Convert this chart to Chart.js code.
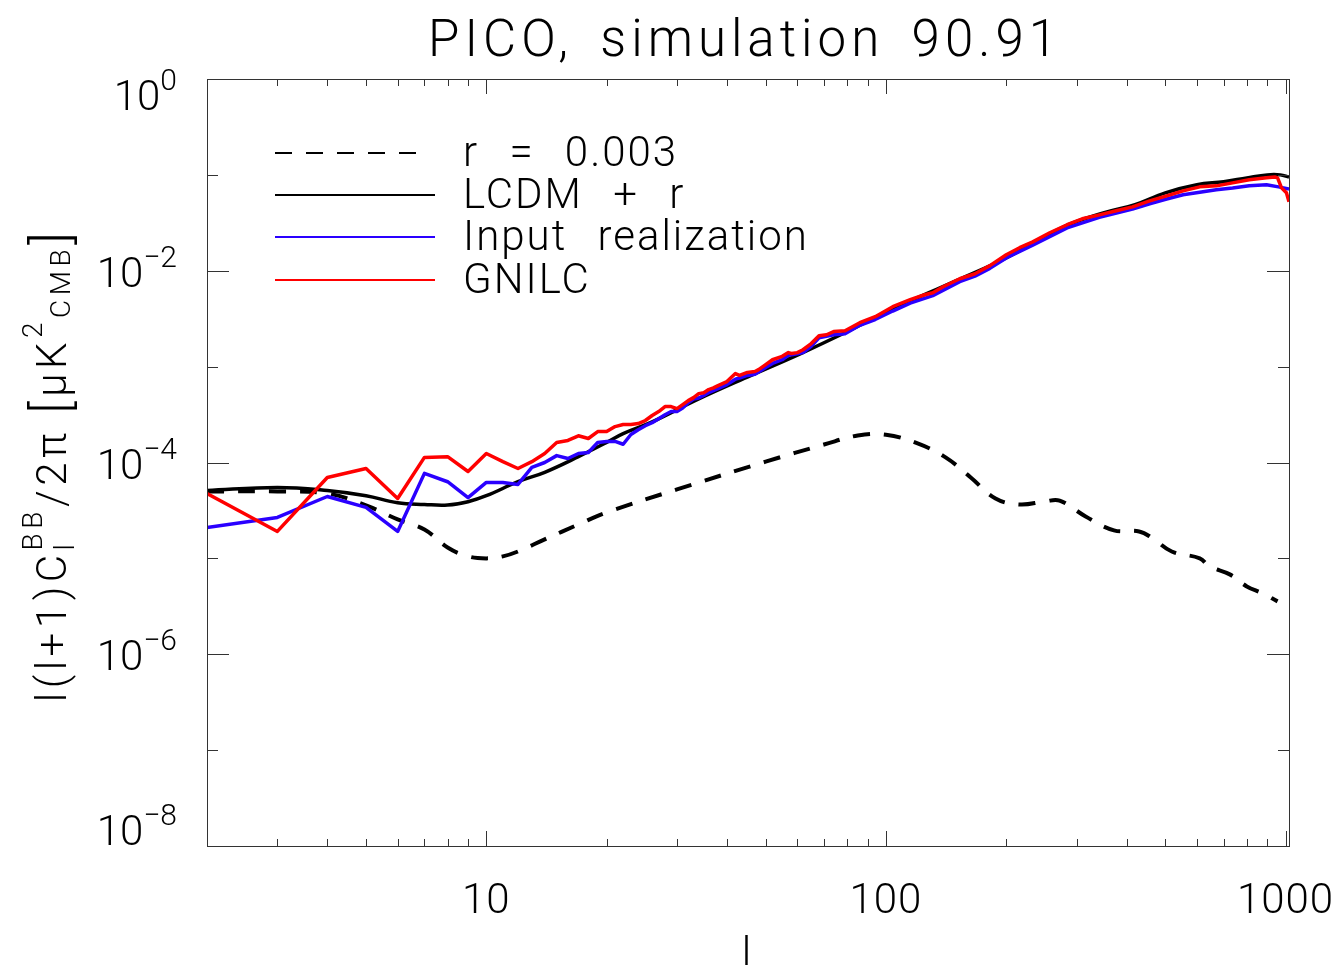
<!DOCTYPE html>
<html>
<head>
<meta charset="utf-8">
<title>PICO, simulation 90.91</title>
<script src="https://cdn.jsdelivr.net/npm/chart.js@4.4.1/dist/chart.umd.min.js"></script>
<style>
  html, body { margin: 0; padding: 0; background: #fff; }
  canvas { display: block; }
</style>
</head>
<body>
<canvas id="bbSpectrum" width="1343" height="965"></canvas>
<script>
// tensor-only spectrum, r = 0.003
const ellTensor = [2, 3, 4, 5, 6, 7, 8, 9, 10, 11, 12, 14, 17, 20, 30, 50, 70, 85, 100, 120, 141, 163, 188, 216, 250, 272, 316, 372, 430, 465, 519, 610, 645, 725, 800, 875, 955];
const tensorR = [4.99e-5, 4.99e-5, 4.75e-5, 3.57e-5, 2.55e-5, 2.0e-5, 1.30e-5, 1.05e-5, 1.0e-5, 1.05e-5, 1.18e-5, 1.58e-5, 2.26e-5, 3.01e-5, 5.24e-5, 1.02e-4, 1.54e-4, 1.91e-4, 1.95e-4, 1.58e-4, 1.13e-4, 6.98e-5, 4.22e-5, 3.65e-5, 3.92e-5, 4.0e-5, 2.74e-5, 1.96e-5, 1.91e-5, 1.62e-5, 1.18e-5, 1.0e-5, 8.25e-6, 6.81e-6, 5.1e-6, 4.32e-6, 3.56e-6];

// lensing + tensors model
const ellModel = [2, 3, 4, 5, 6, 7, 8, 9, 10, 12, 14, 17, 20, 22, 26, 34, 46, 61, 78, 100, 150, 200, 280, 350, 420, 500, 600, 700, 800, 900, 970, 1020];
const lcdmR = [5.1e-5, 5.5e-5, 5.1e-5, 4.5e-5, 3.8e-5, 3.65e-5, 3.6e-5, 3.9e-5, 4.5e-5, 6.3e-5, 7.9e-5, 1.15e-4, 1.62e-4, 2.0e-4, 2.65e-4, 4.6e-4, 8.1e-4, 1.36e-3, 2.2e-3, 3.7e-3, 7.9e-3, 1.36e-2, 2.9e-2, 4.0e-2, 4.9e-2, 6.5e-2, 7.9e-2, 8.5e-2, 9.3e-2, 1.0e-1, 1.0e-1, 9.5e-2];

// input CMB realization
const ellInput = [2, 3, 4, 5, 6, 7, 8, 9, 10, 11, 12, 13, 14, 15, 16, 17, 18, 19, 20, 21, 22, 23, 24, 25, 26, 27, 28, 29, 30, 31, 32, 33, 34, 35, 36, 38, 40, 42, 43, 45, 47, 50, 52, 55, 57, 60, 62, 65, 68, 74, 79, 86, 94, 104, 115, 131, 153, 167, 182, 200, 233, 284, 342, 414, 457, 504, 554, 610, 671, 737, 811, 896, 960, 1020];
const inputReal = [2.1e-5, 2.67e-5, 4.42e-5, 3.4e-5, 1.91e-5, 7.7e-5, 6.3e-5, 4.3e-5, 6.2e-5, 6.2e-5, 5.9e-5, 8.9e-5, 1.0e-4, 1.18e-4, 1.1e-4, 1.24e-4, 1.27e-4, 1.62e-4, 1.66e-4, 1.66e-4, 1.55e-4, 1.96e-4, 2.2e-4, 2.42e-4, 2.6e-4, 2.86e-4, 3.15e-4, 3.4e-4, 3.4e-4, 3.7e-4, 4.2e-4, 4.6e-4, 4.7e-4, 5.0e-4, 5.35e-4, 5.9e-4, 6.5e-4, 7.4e-4, 7.6e-4, 8.1e-4, 8.3e-4, 9.8e-4, 1.08e-3, 1.18e-3, 1.31e-3, 1.36e-3, 1.40e-3, 1.63e-3, 2.0e-3, 2.15e-3, 2.2e-3, 2.7e-3, 3.1e-3, 3.8e-3, 4.6e-3, 5.5e-3, 7.7e-3, 8.8e-3, 1.06e-2, 1.36e-2, 1.85e-2, 2.8e-2, 3.6e-2, 4.4e-2, 5.0e-2, 5.6e-2, 6.2e-2, 6.6e-2, 7.0e-2, 7.3e-2, 7.7e-2, 7.9e-2, 7.5e-2, 7.1e-2];

// GNILC reconstruction
const ellGnilc = [2, 3, 4, 5, 6, 7, 8, 9, 10, 11, 12, 13, 14, 15, 16, 17, 18, 19, 20, 21, 22, 23, 24, 25, 26, 27, 28, 29, 30, 31, 32, 33, 34, 35, 36, 37, 38, 40, 42, 43, 45, 47, 48, 50, 52, 55, 57, 58, 60, 62, 65, 68, 71, 74, 79, 86, 94, 104, 115, 125, 131, 139, 153, 167, 182, 200, 216, 233, 257, 284, 310, 342, 377, 414, 457, 504, 554, 610, 671, 737, 811, 896, 940, 955, 977, 1005, 1020];
const gnilc = [4.75e-5, 1.91e-5, 6.98e-5, 8.66e-5, 4.22e-5, 1.13e-4, 1.15e-4, 8.06e-5, 1.24e-4, 1.02e-4, 8.66e-5, 1.02e-4, 1.24e-4, 1.62e-4, 1.70e-4, 1.90e-4, 1.78e-4, 2.10e-4, 2.10e-4, 2.37e-4, 2.49e-4, 2.49e-4, 2.55e-4, 2.74e-4, 3.09e-4, 3.40e-4, 3.83e-4, 3.83e-4, 3.65e-4, 4.02e-4, 4.42e-4, 4.75e-4, 5.23e-4, 5.35e-4, 5.76e-4, 6.0e-4, 6.34e-4, 6.98e-4, 8.46e-4, 8.1e-4, 8.7e-4, 8.9e-4, 9.3e-4, 1.05e-3, 1.18e-3, 1.28e-3, 1.40e-3, 1.37e-3, 1.40e-3, 1.50e-3, 1.74e-3, 2.10e-3, 2.15e-3, 2.32e-3, 2.37e-3, 2.87e-3, 3.32e-3, 4.22e-3, 4.99e-3, 5.62e-3, 5.9e-3, 6.81e-3, 8.25e-3, 9.31e-3, 1.13e-2, 1.47e-2, 1.74e-2, 2.0e-2, 2.49e-2, 3.02e-2, 3.48e-2, 3.83e-2, 4.22e-2, 4.64e-2, 5.36e-2, 6.04e-2, 6.81e-2, 7.50e-2, 7.68e-2, 8.25e-2, 8.88e-2, 9.31e-2, 9.5e-2, 9.31e-2, 7.32e-2, 6.5e-2, 5.24e-2];

const seriesNames = ["r = 0.003", "LCDM + r", "Input realization", "GNILC"];
const xTickValues = [10, 100, 1000];
const yTickExponents = [0, -2, -4, -6, -8];

const FONT = "Roboto";
const WEIGHT = 300;

const pairs = (xs, ys) => xs.map((x, i) => ({ x: x, y: ys[i] }));

function setFont(ctx, size) {
  ctx.font = WEIGHT + " " + size + "px " + FONT;
}

// width of one text piece; "gap" widens every space
function pieceWidth(ctx, p) {
  const words = p.t.split(" ");
  if (!p.gap || words.length === 1) return ctx.measureText(p.t).width;
  const space = ctx.measureText(" ").width + p.gap;
  return words.reduce((sum, w) => sum + ctx.measureText(w).width, 0) + space * (words.length - 1);
}

function fillPiece(ctx, p, x, y) {
  const words = p.t.split(" ");
  if (!p.gap || words.length === 1) { ctx.fillText(p.t, x, y); return; }
  const space = ctx.measureText(" ").width + p.gap;
  let cx = x;
  words.forEach(w => {
    ctx.fillText(w, cx, y);
    cx += ctx.measureText(w).width + space;
  });
}

// lays out text pieces with sub/superscripts; "over" stacks a piece on the previous one
function layoutRich(ctx, parts, x, y, draw) {
  let cur = x, prevStart = x, prevW = 0;
  for (const p of parts) {
    setFont(ctx, p.s);
    const w = pieceWidth(ctx, p);
    const start = p.over ? prevStart : cur;
    if (draw) fillPiece(ctx, p, start, y + (p.dy || 0));
    cur = p.over ? start + Math.max(prevW, w) : start + w;
    prevStart = start;
    prevW = w;
  }
  return cur - x;
}

function drawRich(ctx, parts, x, y, align) {
  ctx.textAlign = "left";
  ctx.textBaseline = "alphabetic";
  const w = layoutRich(ctx, parts, 0, 0, false);
  const x0 = align === "right" ? x - w : align === "center" ? x - w / 2 : x;
  layoutRich(ctx, parts, x0, y, true);
}

const idlFrame = {
  id: "idlFrame",
  afterDraw(chart) {
    const ctx = chart.ctx;
    const { left, right, top, bottom } = chart.chartArea;
    const xs = chart.scales.x, ys = chart.scales.y;
    ctx.save();
    ctx.fillStyle = "#000";
    ctx.strokeStyle = "#333";
    ctx.lineWidth = 1;
    ctx.setLineDash([]);

    // box
    ctx.strokeRect(Math.round(left) + 0.5, Math.round(top) + 0.5, Math.round(right - left), Math.round(bottom - top));

    // x ticks, bottom and top
    ctx.beginPath();
    for (let dec = 1; dec <= 1000; dec *= 10) {
      for (let m = 1; m <= 9; m++) {
        const v = m * dec;
        if (v < xs.min || v > xs.max) continue;
        const px = Math.round(xs.getPixelForValue(v)) + 0.5;
        const len = m === 1 ? 15 : 7;
        ctx.moveTo(px, bottom); ctx.lineTo(px, bottom - len);
        ctx.moveTo(px, top); ctx.lineTo(px, top + len);
      }
    }
    // y ticks, one per decade, long on labelled decades
    for (let e = 0; e >= -8; e--) {
      const py = Math.round(ys.getPixelForValue(Math.pow(10, e))) + 0.5;
      const len = e % 2 === 0 ? 22 : 11;
      ctx.moveTo(left, py); ctx.lineTo(left + len, py);
      ctx.moveTo(right, py); ctx.lineTo(right - len, py);
    }
    ctx.stroke();

    // y tick labels
    ctx.letterSpacing = "0px";
    yTickExponents.forEach(e => {
      const py = ys.getPixelForValue(Math.pow(10, e));
      const base = Math.min(Math.max(py + 16, top + 31), bottom - 1);
      const exp = e === 0 ? "0" : "\u2212" + Math.abs(e);
      drawRich(ctx, [{ t: "10", s: 42 }, { t: exp, s: 30, dy: -20 }], 177, base, "right");
    });
    // x tick labels
    ctx.letterSpacing = "1px";
    xTickValues.forEach(v => {
      const px = xs.getPixelForValue(v);
      drawRich(ctx, [{ t: String(v), s: 42 }], px, 913, "center");
    });

    // x title
    drawRich(ctx, [{ t: "l", s: 42 }], 747, 967, "center");

    // y title
    ctx.save();
    ctx.letterSpacing = "4.5px";
    ctx.translate(66, 465);
    ctx.rotate(-Math.PI / 2);
    drawRich(ctx, [
      { t: "l(l+1)C", s: 42 },
      { t: "l", s: 28, dy: 8 },
      { t: "BB", s: 28, dy: -24, over: true },
      { t: "/2\u03c0 ", s: 42 },
      { t: "[", s: 52, dy: 3 },
      { t: "\u03bcK", s: 42 },
      { t: "2", s: 28, dy: -24 },
      { t: "CMB", s: 28, dy: 4 },
      { t: "]", s: 52, dy: 3 }
    ], 0, 0, "center");
    ctx.restore();

    // legend
    const rows = [153, 195, 237, 280];
    chart.data.datasets.forEach((ds, i) => {
      const y = rows[i];
      ctx.save();
      ctx.strokeStyle = ds.borderColor;
      ctx.lineWidth = 2;
      ctx.setLineDash(ds.borderDash || []);
      ctx.beginPath();
      ctx.moveTo(275, y);
      ctx.lineTo(ds.borderDash ? 424 : 435, y);
      ctx.stroke();
      ctx.restore();
      ctx.letterSpacing = "2px";
      drawRich(ctx, [{ t: ds.label, s: 42, gap: 18 }], 463, y + 13, "left");
    });

    // title
    ctx.letterSpacing = "5px";
    drawRich(ctx, [{ t: "PICO, simulation 90.91", s: 51, gap: 10 }], 745, 56, "center");
    ctx.restore();
  }
};

const ctx = document.getElementById("bbSpectrum");

const bbChart = new Chart(ctx, {
  type: "line",
  data: {
    datasets: [
      {
        label: seriesNames[0],
        data: pairs(ellTensor, tensorR),
        borderColor: "#000000",
        borderWidth: 4,
        borderDash: [17, 14],
        tension: 0.4,
        order: 4
      },
      {
        label: seriesNames[1],
        data: pairs(ellModel, lcdmR),
        borderColor: "#000000",
        borderWidth: 3.5,
        tension: 0.4,
        order: 3
      },
      {
        label: seriesNames[2],
        data: pairs(ellInput, inputReal),
        borderColor: "#2a00ff",
        borderWidth: 3.5,
        tension: 0,
        order: 2
      },
      {
        label: seriesNames[3],
        data: pairs(ellGnilc, gnilc),
        borderColor: "#ff0000",
        borderWidth: 3.5,
        tension: 0,
        order: 1
      }
    ]
  },
  options: {
    responsive: false,
    animation: false,
    events: [],
    layout: {
      padding: { left: 207, top: 79, right: 54, bottom: 119 }
    },
    elements: {
      point: { radius: 0 },
      line: { fill: false, borderCapStyle: "butt", borderJoinStyle: "round" }
    },
    plugins: {
      legend: { display: false },
      title: { display: false },
      tooltip: { enabled: false }
    },
    scales: {
      x: {
        type: "logarithmic",
        display: false,
        bounds: "data",
        min: 2,
        max: 1020
      },
      y: {
        type: "logarithmic",
        display: false,
        bounds: "data",
        min: 1e-8,
        max: 1
      }
    }
  },
  plugins: [idlFrame]
});
</script>
</body>
</html>
